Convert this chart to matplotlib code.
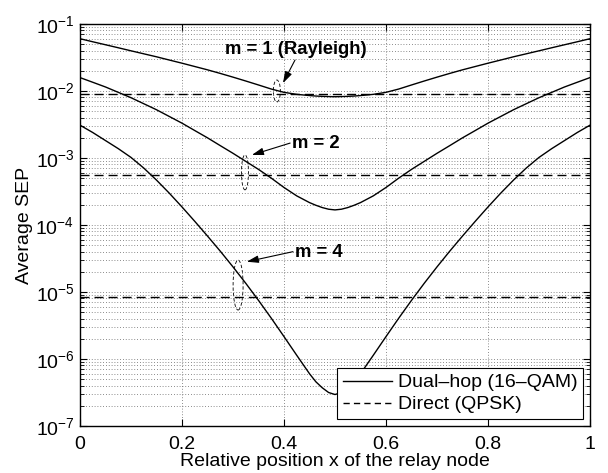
import matplotlib
matplotlib.use("Agg")
import matplotlib.pyplot as plt
from matplotlib.patches import Ellipse
from matplotlib.ticker import LogLocator, FixedLocator, NullFormatter

plt.rcParams["font.family"] = ["Liberation Sans", "DejaVu Sans"]
plt.rcParams["mathtext.fontset"] = "custom"
plt.rcParams["mathtext.rm"] = "Liberation Sans"
plt.rcParams["mathtext.it"] = "Liberation Sans:italic"
plt.rcParams["mathtext.bf"] = "Liberation Sans:bold"

# ---------- data ----------
x_pos = [0.0, 0.025, 0.05, 0.075, 0.1, 0.125, 0.15, 0.175, 0.2, 0.225, 0.25, 0.275,
         0.3, 0.325, 0.35, 0.375, 0.4, 0.425, 0.45, 0.4625, 0.475, 0.4875, 0.5,
         0.5125, 0.525, 0.5375, 0.55, 0.575, 0.6, 0.625, 0.65, 0.675, 0.7, 0.725,
         0.75, 0.775, 0.8, 0.825, 0.85, 0.875, 0.9, 0.925, 0.95, 0.975, 1.0]

# dual-hop 16-QAM, m = 1 (Rayleigh)
sep_m1 = [6.03e-2, 5.43e-2, 4.90e-2, 4.42e-2, 3.98e-2, 3.59e-2, 3.24e-2, 2.90e-2,
          2.60e-2, 2.32e-2, 2.07e-2, 1.83e-2, 1.61e-2, 1.41e-2, 1.23e-2, 1.07e-2,
          9.55e-3, 8.91e-3, 8.55e-3, 8.41e-3, 8.32e-3, 8.26e-3, 8.22e-3,
          8.26e-3, 8.32e-3, 8.41e-3, 8.55e-3, 8.91e-3, 9.55e-3, 1.07e-2, 1.23e-2,
          1.41e-2, 1.61e-2, 1.83e-2, 2.07e-2, 2.32e-2, 2.60e-2, 2.90e-2, 3.24e-2,
          3.59e-2, 3.98e-2, 4.42e-2, 4.90e-2, 5.43e-2, 6.03e-2]
# m = 2
sep_m2 = [1.585e-2, 1.35e-2, 1.148e-2, 9.55e-3, 7.94e-3, 6.46e-3, 5.25e-3, 4.17e-3,
          3.31e-3, 2.57e-3, 2.00e-3, 1.53e-3, 1.175e-3, 8.91e-4, 6.76e-4, 5.01e-4,
          3.63e-4, 2.72e-4, 2.16e-4, 1.97e-4, 1.82e-4, 1.72e-4, 1.68e-4,
          1.72e-4, 1.82e-4, 1.97e-4, 2.16e-4, 2.72e-4, 3.63e-4, 5.01e-4, 6.76e-4,
          8.91e-4, 1.175e-3, 1.53e-3, 2.00e-3, 2.57e-3, 3.31e-3, 4.17e-3, 5.25e-3,
          6.46e-3, 7.94e-3, 9.55e-3, 1.148e-2, 1.35e-2, 1.585e-2]
# m = 4
sep_m4 = [3.09e-3, 2.40e-3, 1.82e-3, 1.38e-3, 1.02e-3, 7.08e-4, 4.68e-4, 2.99e-4,
          1.86e-4, 1.135e-4, 6.84e-5, 4.07e-5, 2.37e-5, 1.35e-5, 7.50e-6, 4.07e-6,
          2.16e-6, 1.135e-6, 6.03e-7, 4.57e-7, 3.72e-7, 3.16e-7, 2.95e-7,
          3.16e-7, 3.72e-7, 4.57e-7, 6.03e-7, 1.135e-6, 2.16e-6, 4.07e-6, 7.50e-6,
          1.35e-5, 2.37e-5, 4.07e-5, 6.84e-5, 1.135e-4, 1.86e-4, 2.99e-4, 4.68e-4,
          7.08e-4, 1.02e-3, 1.38e-3, 1.82e-3, 2.40e-3, 3.09e-3]

direct_sep = [9.0e-3, 5.5e-4, 8.3e-6]   # m = 1, 2, 4 (QPSK direct link)

labels = ["m = 1 (Rayleigh)", "m = 2", "m = 4"]
label_xy = [(0.423, 4.1e-2), (0.416, 1.62e-3), (0.422, 3.86e-5)]
arrow_tail = [(0.4216, 2.9e-2), (0.412, 1.67e-3), (0.4176, 4.0e-5)]
arrow_head = [(0.398, 1.31e-2), (0.337, 1.11e-3), (0.327, 2.83e-5)]
ellipse_xy = [(0.386, 1.0e-2), (0.3235, 6.1e-4), (0.31, 1.27e-5)]
ellipse_px = [(7, 22), (7, 35), (10, 50)]   # width, height in pixels

x_ticks = [0, 0.2, 0.4, 0.6, 0.8, 1]
x_ticklabels = ["0", "0.2", "0.4", "0.6", "0.8", "1"]

# ---------- figure ----------
fig = plt.figure(figsize=(6.08, 4.73), dpi=100)
ax = fig.add_axes([80 / 608, 1 - 426 / 473, 510 / 608, 402 / 473])

lw = 1.0
for sep in (sep_m1, sep_m2, sep_m4):
    ax.semilogy(x_pos, sep, color="black", lw=lw)
for d in direct_sep:
    ax.axhline(d, color="black", lw=lw, dashes=(6.5, 3.6))

ax.set_xlim(0, 1)
ax.set_ylim(1e-7, 1e-1)

ax.xaxis.set_major_locator(FixedLocator(x_ticks))
ax.set_xticklabels(x_ticklabels)
ax.yaxis.set_major_locator(LogLocator(base=10, numticks=10))
ax.yaxis.set_minor_locator(LogLocator(base=10, subs=range(2, 10), numticks=20))
ax.yaxis.set_minor_formatter(NullFormatter())

ax.tick_params(which="both", direction="in", top=True, right=True,
               labelsize=14, colors="black")
ax.tick_params(which="major", length=5, width=0.8)
ax.tick_params(which="minor", length=3, width=0.6)
ax.tick_params(axis="x", pad=7.5)
ax.tick_params(axis="y", pad=4)

grid_kw = dict(color="0.4", lw=0.6, linestyle=(0, (1, 2.4)))
ax.grid(True, which="major", axis="both", **grid_kw)
ax.grid(True, which="minor", axis="y", **grid_kw)

for s in ax.spines.values():
    s.set_linewidth(1.0)
    s.set_color("black")

ax.set_xlabel("Relative position x of the relay node", fontsize=14, labelpad=-0.5)
ax.set_ylabel("Average SEP", fontsize=14, labelpad=2)

# annotations: label, arrow and dashed ellipse around the crossing
fig.canvas.draw()
to_axes = ax.transAxes.inverted()
for lab, lxy, tail, head, exy, (wpx, hpx) in zip(labels, label_xy, arrow_tail,
                                                  arrow_head, ellipse_xy, ellipse_px):
    ha = "center" if lab.startswith("m = 1") else "left"
    ax.text(lxy[0], lxy[1], lab, fontsize=13.3, fontweight="bold", ha=ha, va="center")
    ax.annotate("", xy=head, xytext=tail,
                arrowprops=dict(arrowstyle="-|>,head_length=0.7,head_width=0.22",
                                color="black", lw=0.8, shrinkA=0, shrinkB=0))
    c = to_axes.transform(ax.transData.transform(exy))
    ax.add_patch(Ellipse(c, wpx / 510, hpx / 402, transform=ax.transAxes,
                         fill=False, ec="black", lw=0.6, linestyle=(0, (4, 2.5))))

h1, = ax.plot([], [], color="black", lw=lw)
h2, = ax.plot([], [], color="black", lw=lw, dashes=(4.5, 3))
leg = ax.legend([h1, h2], ["Dual\u2013hop (16\u2013QAM)", "Direct (QPSK)"],
                loc="lower right", fontsize=14, fancybox=False, framealpha=1,
                edgecolor="black", borderaxespad=0.35, handlelength=2.5,
                labelspacing=0.22, borderpad=0.3, handletextpad=0.3)
leg.get_frame().set_linewidth(0.8)

fig.savefig("out.png", dpi=100)
